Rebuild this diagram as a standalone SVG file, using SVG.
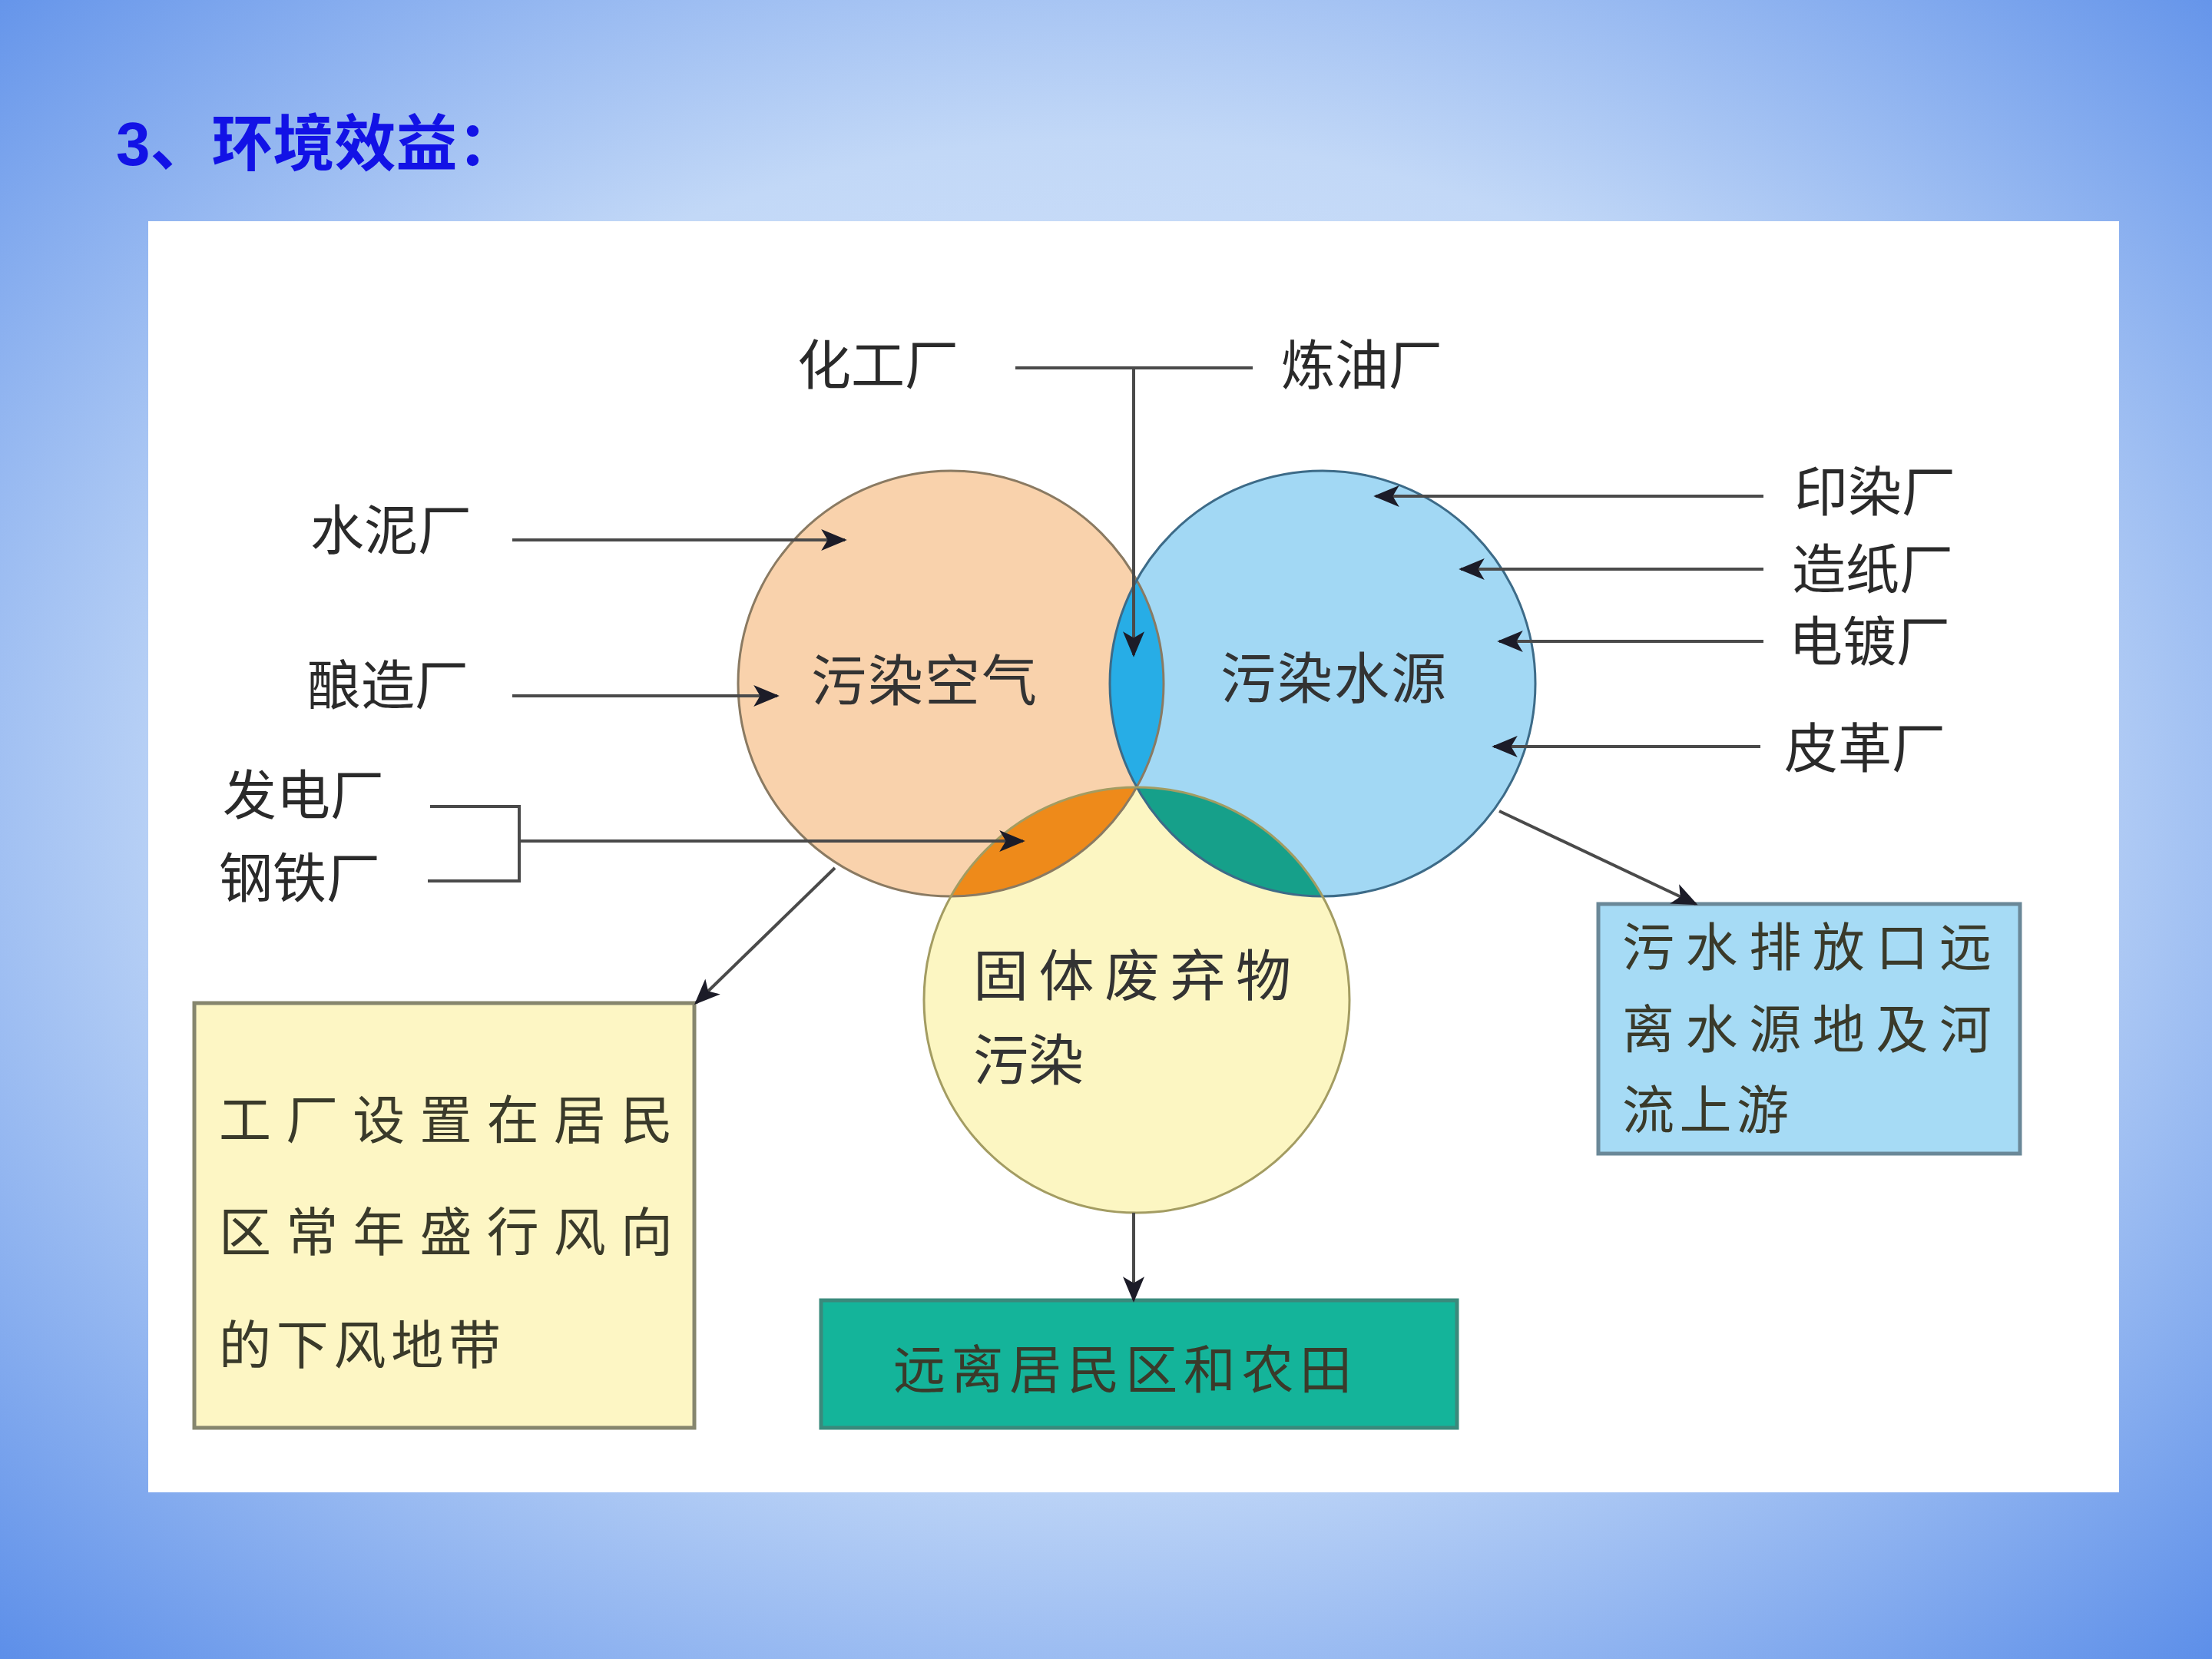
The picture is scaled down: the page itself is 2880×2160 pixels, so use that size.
<svg xmlns="http://www.w3.org/2000/svg" width="2880" height="2160" viewBox="0 0 2880 2160">
<defs>
<radialGradient id="bg" cx="50%" cy="48%" r="72%">
<stop offset="0" stop-color="#dfeafb"/>
<stop offset="0.55" stop-color="#c2d8f7"/>
<stop offset="1" stop-color="#5d8fe9"/>
</radialGradient>
<clipPath id="cL"><circle cx="1238" cy="890" r="277"/></clipPath>
<clipPath id="cR"><circle cx="1722" cy="890" r="277"/></clipPath>
<marker id="ah" viewBox="0 0 12 10" refX="11" refY="5" markerUnits="userSpaceOnUse" markerWidth="36" markerHeight="28" orient="auto">
<path d="M0,0 L12,5 L0,10 L3,5 z" fill="#1c1c28"/>
</marker>
<style>
.lbl{font-family:"Liberation Serif","Noto Sans CJK SC",serif;font-size:70px;fill:#2a2a2a}
.cir{font-family:"Liberation Serif","Noto Sans CJK SC",serif;font-size:72px;fill:#333}
.box{font-family:"Liberation Serif","Noto Sans CJK SC",serif;font-size:68px;fill:#3a3a2a}
.ln{stroke:#4a4a4a;stroke-width:4;fill:none}
.arr{stroke:#4a4a4a;stroke-width:4;fill:none;marker-end:url(#ah)}
</style>
</defs>
<rect x="0" y="0" width="2880" height="2160" fill="url(#bg)"/>
<text x="151" y="215" font-family="Liberation Sans,'Noto Sans CJK SC',sans-serif" font-size="80" font-weight="bold" fill="#1212e6">3、环境效益：</text>
<rect x="193" y="288" width="2566" height="1655" fill="#ffffff"/>

<g id="circles">
<g id="air"><circle cx="1238" cy="890" r="277" fill="#f9d2ac"/></g>
<g id="water"><circle cx="1722" cy="890" r="277" fill="#a2d8f4"/></g>
<g id="solid"><circle cx="1480" cy="1302" r="277" fill="#fcf6c2"/></g>
<circle cx="1722" cy="890" r="277" fill="#27ade6" clip-path="url(#cL)"/>
<circle cx="1480" cy="1302" r="277" fill="#ee8a1a" clip-path="url(#cL)"/>
<circle cx="1480" cy="1302" r="277" fill="#16a08a" clip-path="url(#cR)"/>
<circle cx="1238" cy="890" r="277" fill="none" stroke="#8a7a62" stroke-width="3"/>
<circle cx="1722" cy="890" r="277" fill="none" stroke="#3d6b88" stroke-width="3"/>
<circle cx="1480" cy="1302" r="277" fill="none" stroke="#a39c62" stroke-width="3"/>
<text class="cir" x="1056" y="912" textLength="294">污染空气</text>
<text class="cir" x="1589" y="909" textLength="294">污染水源</text>
<text class="cir" x="1267" y="1296" font-size="66" textLength="414">固体废弃物</text>
<text class="cir" x="1267" y="1406" font-size="66" textLength="144">污染</text>
</g>

<g id="box-left">
<rect x="253" y="1306" width="651" height="553" fill="#fdf6c4" stroke="#86866e" stroke-width="5"/>
<text class="box" x="285" y="1483" textLength="591">工厂设置在居民</text>
<text class="box" x="285" y="1629" textLength="591">区常年盛行风向</text>
<text class="box" x="285" y="1776" textLength="367">的下风地带</text>
</g>
<g id="box-right">
<rect x="2081" y="1177" width="549" height="325" fill="#a6dbf5" stroke="#6a8898" stroke-width="5"/>
<text class="box" x="2112" y="1258" font-size="64" fill="#1e3a4a" textLength="481">污水排放口远</text>
<text class="box" x="2112" y="1365" font-size="64" fill="#1e3a4a" textLength="481">离水源地及河</text>
<text class="box" x="2112" y="1470" font-size="64" fill="#1e3a4a" textLength="217">流上游</text>
</g>
<g id="box-bottom">
<rect x="1069" y="1693" width="828" height="166" fill="#14b49a" stroke="#3a8a7c" stroke-width="5"/>
<text class="box" x="1163" y="1808" fill="#1f4d4a" textLength="597">远离居民区和农田</text>
</g>

<g id="labels">
<text class="lbl" x="1038" y="501">化工厂</text>
<text class="lbl" x="1668" y="501">炼油厂</text>
<text class="lbl" x="404" y="716">水泥厂</text>
<text class="lbl" x="400" y="918">酿造厂</text>
<text class="lbl" x="290" y="1061">发电厂</text>
<text class="lbl" x="285" y="1169">钢铁厂</text>
<text class="lbl" x="2336" y="666">印染厂</text>
<text class="lbl" x="2333" y="767">造纸厂</text>
<text class="lbl" x="2329" y="861">电镀厂</text>
<text class="lbl" x="2323" y="1000">皮革厂</text>
</g>

<g id="connectors">
<line class="ln" x1="1322" y1="479" x2="1631" y2="479"/>
<line class="arr" x1="1476" y1="479" x2="1476" y2="853"/>
<line class="arr" x1="667" y1="703" x2="1100" y2="703"/>
<line class="arr" x1="667" y1="906" x2="1012" y2="906"/>
<polyline class="ln" points="560,1050 676,1050 676,1147 557,1147"/>
<line class="arr" x1="676" y1="1095" x2="1332" y2="1095"/>
<line class="arr" x1="2296" y1="646" x2="1791" y2="646"/>
<line class="arr" x1="2296" y1="741" x2="1902" y2="741"/>
<line class="arr" x1="2296" y1="835" x2="1952" y2="835"/>
<line class="arr" x1="2292" y1="972" x2="1945" y2="972"/>
<line class="arr" x1="1087" y1="1130" x2="906" y2="1306"/>
<line class="arr" x1="1952" y1="1056" x2="2208" y2="1177"/>
<line class="arr" x1="1476" y1="1579" x2="1476" y2="1693"/>
</g>
</svg>
